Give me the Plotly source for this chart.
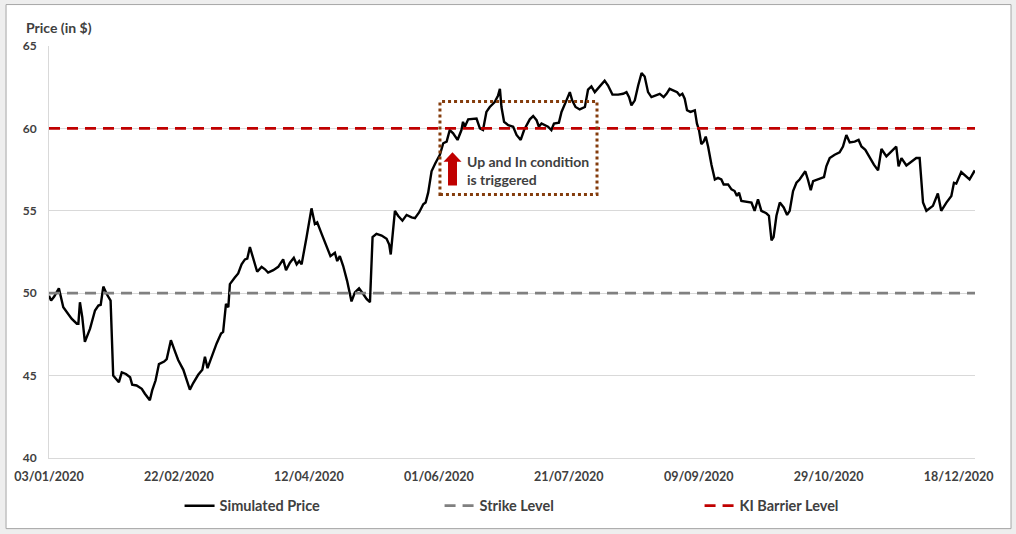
import pandas as pd
import plotly.graph_objects as go

start_date = "2020-01-03"
end_offset_days = 356.3

# day offsets from 03/01/2020 and simulated price
day_offsets = [
    0.0, 0.8, 2.0, 3.8, 5.5, 6.8, 8.7, 10.7, 11.3, 11.9,
    12.8, 13.8, 15.8, 17.7, 19.0, 19.9, 20.9, 22.2, 23.7, 24.7,
    26.0, 26.9, 28.0, 29.6, 31.2, 32.0, 33.7, 35.7, 36.9, 38.8,
    39.7, 41.0, 42.3, 44.3, 45.3, 46.9, 48.5, 49.7, 51.7, 53.0,
    54.2, 55.5, 57.4, 59.0, 60.0, 61.0, 62.6, 64.5, 66.2, 67.0,
    68.1, 69.0, 69.6, 70.9, 71.5, 72.8, 74.1, 75.4, 76.3, 77.3,
    78.6, 80.1, 81.8, 83.1, 84.3, 86.3, 88.2, 90.1, 91.2, 92.7,
    94.2, 95.3, 96.3, 97.2, 99.1, 101.0, 102.3, 103.2, 104.9, 106.8,
    108.3, 110.0, 110.9, 111.9, 113.2, 114.7, 116.4, 117.7, 119.3, 120.9,
    122.2, 123.5, 124.5, 126.0, 128.0, 129.9, 130.9, 131.5, 133.1, 134.3,
    136.0, 137.6, 139.5, 140.8, 142.4, 144.0, 144.9, 145.9, 147.2, 148.7,
    150.4, 151.7, 153.0, 154.2, 155.5, 157.2, 158.7, 159.3, 160.0, 161.3,
    163.2, 164.5, 165.8, 167.0, 168.3, 169.6, 171.5, 172.8, 173.5, 174.1,
    175.1, 176.7, 178.6, 179.9, 181.5, 182.8, 185.0, 186.3, 187.6, 188.5,
    189.5, 191.0, 192.0, 193.3, 194.3, 196.2, 197.2, 199.1, 200.4, 201.3,
    202.6, 204.2, 206.2, 207.4, 208.7, 210.0, 211.9, 213.8, 215.1, 216.8,
    219.0, 220.9, 222.2, 223.2, 224.1, 225.4, 226.7, 228.0, 229.2, 230.5,
    231.8, 233.7, 235.0, 236.5, 237.6, 238.8, 240.1, 241.7, 242.7, 243.7,
    244.6, 245.5, 246.8, 248.5, 249.3, 250.1, 251.0, 251.9, 252.7, 253.6,
    254.9, 256.2, 257.4, 258.7, 259.6, 261.3, 262.6, 263.8, 264.7, 265.5,
    266.4, 268.3, 270.3, 271.5, 272.8, 274.1, 276.0, 277.0, 278.0, 278.8,
    279.9, 281.2, 282.7, 284.0, 285.0, 286.3, 287.6, 288.8, 291.0, 292.0,
    293.1, 294.0, 295.9, 298.2, 299.1, 300.4, 302.3, 304.2, 305.5, 306.8,
    308.1, 310.0, 311.5, 312.6, 314.1, 315.8, 317.4, 319.0, 320.3, 322.2,
    324.1, 326.0, 326.9, 328.0, 329.9, 331.8, 333.7, 335.0, 336.3, 337.6,
    340.1, 342.0, 343.3, 345.3, 347.2, 348.2, 349.1, 351.0, 352.9, 354.2, 356.2,
]

simulated_price = [
    49.85, 49.55, 49.8, 50.3, 49.15, 48.85, 48.45, 48.15, 48.15, 49.45,
    48.55, 47.05, 47.85, 48.95, 49.25, 49.3, 50.4, 49.95, 49.55, 45.0,
    44.8, 44.6, 45.2, 45.1, 44.9, 44.45, 44.4, 44.2, 43.9, 43.5,
    44.1, 44.7, 45.7, 45.85, 46.0, 47.15, 46.45, 45.95, 45.35, 44.75,
    44.15, 44.55, 45.05, 45.35, 46.15, 45.45, 46.15, 46.95, 47.55, 47.65,
    49.35, 49.15, 50.55, 50.85, 50.95, 51.2, 51.75, 52.05, 52.1, 52.8,
    52.05, 51.3, 51.6, 51.45, 51.25, 51.4, 51.6, 52.05, 51.4, 51.85,
    52.15, 51.75, 51.95, 51.75, 53.4, 55.15, 54.2, 54.3, 53.6, 52.85,
    52.25, 52.45, 51.95, 52.25, 51.65, 50.75, 49.5, 50.05, 50.3, 49.95,
    49.65, 49.45, 53.4, 53.6, 53.5, 53.3, 52.95, 52.35, 55.0, 54.7,
    54.4, 54.75, 54.6, 54.55, 54.9, 55.4, 55.5, 56.1, 57.4, 57.9,
    58.4, 59.1, 59.2, 59.9, 59.7, 59.3, 59.9, 60.4, 60.1, 60.55,
    60.6, 60.6, 60.0, 59.9, 61.0, 61.3, 61.6, 62.0, 62.4, 61.3,
    60.4, 60.2, 60.1, 59.6, 59.3, 59.9, 60.55, 60.75, 60.5, 60.1,
    60.3, 60.2, 60.1, 59.9, 60.3, 60.35, 61.0, 61.7, 62.2, 61.7,
    61.3, 61.15, 61.3, 62.35, 62.55, 62.2, 62.55, 62.9, 62.6, 62.05,
    62.05, 62.1, 62.2, 61.9, 61.4, 61.7, 62.6, 63.35, 63.15, 62.2,
    61.9, 62.0, 62.1, 61.9, 62.1, 62.4, 62.3, 62.2, 62.0, 62.1,
    61.8, 61.1, 61.0, 61.1, 60.3, 59.9, 59.05, 59.2, 59.5, 58.9,
    57.8, 56.9, 57.0, 56.9, 56.6, 56.6, 56.3, 56.2, 55.9, 56.1,
    55.6, 55.55, 55.5, 55.0, 55.7, 55.0, 54.85, 54.7, 53.2, 53.4,
    54.7, 55.5, 55.2, 54.75, 55.0, 56.2, 56.7, 56.9, 57.4, 56.9,
    56.25, 56.8, 56.9, 57.05, 57.7, 58.2, 58.4, 58.55, 58.9, 59.6,
    59.15, 59.2, 59.3, 58.9, 58.7, 58.2, 57.8, 57.45, 58.75, 58.3,
    58.6, 58.9, 57.7, 58.2, 57.75, 58.0, 58.2, 58.2, 55.5, 55.0,
    55.3, 56.05, 55.0, 55.5, 55.9, 56.7, 56.65, 57.35, 57.1, 56.9, 57.45,
]

strike_level = 50
ki_barrier_level = 60

tick_dates = ["2020-01-03", "2020-02-22", "2020-04-12", "2020-06-01",
              "2020-07-21", "2020-09-09", "2020-10-29", "2020-12-18"]
tick_labels = ["03/01/2020", "22/02/2020", "12/04/2020", "01/06/2020",
               "21/07/2020", "09/09/2020", "29/10/2020", "18/12/2020"]

start = pd.Timestamp(start_date)
dates = start + pd.to_timedelta(day_offsets, unit="D")
end = start + pd.to_timedelta(end_offset_days, unit="D")

FONT = "Lato"
TXT = "#404040"

fig = go.Figure()
fig.add_trace(go.Scatter(
    x=dates, y=simulated_price, mode="lines", name="Simulated Price",
    line=dict(color="#000000", width=2.4),
))
fig.add_trace(go.Scatter(
    x=[start, end], y=[strike_level, strike_level], mode="lines",
    name="Strike Level",
    line=dict(color="#808080", width=2.75, dash="11px,7px"),
))
fig.add_trace(go.Scatter(
    x=[start, end], y=[ki_barrier_level, ki_barrier_level], mode="lines",
    name="KI Barrier Level",
    line=dict(color="#c00000", width=2.75, dash="11px,7px"),
))

# outer frame
fig.add_shape(type="rect", xref="paper", yref="paper",
              x0=-0.0464, x1=1.0389, y0=-0.1714, y1=1.1006,
              fillcolor="#ffffff", line=dict(color="#a6a6a6", width=1),
              layer="below")

# dotted annotation box
fig.add_shape(type="rect", xref="x domain", yref="y domain",
              x0=0.4222, x1=0.5918, y0=0.6396, y1=0.8653,
              line=dict(color="#843c0c", width=3, dash="3px,3px"),
              fillcolor="rgba(0,0,0,0)")

# red up arrow
fig.add_shape(type="path", xref="x domain", yref="y domain",
              path="M 0.4357 0.7422 L 0.4455 0.7193 L 0.4406 0.7193 "
                   "L 0.4406 0.6614 L 0.4309 0.6614 L 0.4309 0.7193 "
                   "L 0.4260 0.7193 Z",
              fillcolor="#c00000", line=dict(color="#c00000", width=0))

fig.add_annotation(xref="x domain", yref="y domain", x=0.4495, y=0.698,
                   xanchor="left", yanchor="middle", align="left",
                   text="Up and In condition<br>is triggered", showarrow=False,
                   font=dict(family=FONT, size=14, color=TXT, weight="bold"))

fig.add_annotation(xref="paper", yref="paper", x=-0.027, y=1.045,
                   xanchor="left", yanchor="middle",
                   text="Price (in $)", showarrow=False,
                   font=dict(family=FONT, size=14, color=TXT, weight="bold"))

fig.update_layout(
    width=1016, height=534,
    margin=dict(l=49, r=41, t=46, b=74),
    paper_bgcolor="#eeeeee",
    plot_bgcolor="rgba(0,0,0,0)",
    font=dict(family=FONT, color=TXT),
    showlegend=True,
    legend=dict(orientation="h", x=0.141, xanchor="left", y=-0.116,
                yanchor="middle", bgcolor="rgba(0,0,0,0)",
                font=dict(family=FONT, size=14.5, color=TXT, weight="bold"),
                entrywidth=215, entrywidthmode="pixels"),
    xaxis=dict(
        type="date", range=[start, end],
        tickvals=tick_dates, ticktext=tick_labels,
        showgrid=False, zeroline=False,
        showline=True, linecolor="#d9d9d9", linewidth=1,
        ticks="", tickfont=dict(family=FONT, size=12.5, color=TXT, weight="bold"),
        ticklabelstandoff=7,
    ),
    yaxis=dict(
        range=[40, 65], dtick=5, tick0=40,
        showgrid=True, gridcolor="#d9d9d9", gridwidth=1,
        zeroline=False, showline=True, linecolor="#d9d9d9", linewidth=1,
        ticks="", tickfont=dict(family=FONT, size=12, color=TXT, weight="bold"),
        ticklabelstandoff=9,
    ),
)

fig.write_html("out.html",
               config={"displayModeBar": False},
               post_script="document.body.style.margin='0';"
                           "document.body.style.padding='0';")
